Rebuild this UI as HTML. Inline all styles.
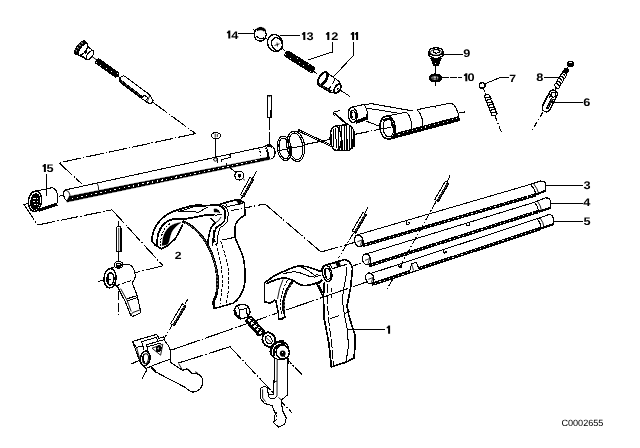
<!DOCTYPE html>
<html><head><meta charset="utf-8"><style>
html,body{margin:0;padding:0;background:#fff;}
svg{display:block;font-family:"Liberation Sans",sans-serif;}
text{text-rendering:geometricPrecision;}
</style></head><body>
<svg style="will-change:transform" width="640" height="448" viewBox="0 0 640 448" fill="none" stroke="#000" stroke-linecap="butt" stroke-linejoin="round" shape-rendering="crispEdges">
<rect x="0" y="0" width="640" height="448" fill="#fff" stroke="none"/>
<g transform="translate(80,47.5) rotate(36.8)">
<ellipse cx="0.6" cy="0" rx="3.6" ry="8.2" stroke-width="1.2" fill="#000"/>
<path d="M-2.0,-4.6 L-0.2,-5.0 M-2.6,-1.6 L-0.6,-1.8 M-2.6,1.6 L-0.6,1.6 M-2.0,4.6 L-0.2,4.8" stroke="#fff" stroke-width="0.9"/>
<ellipse cx="3.6" cy="0" rx="3.0" ry="7.2" stroke-width="1.2" fill="#fff"/>
<path d="M4.6,-5.6 L12.5,-5.2 M4.6,6.0 L12.5,5.4" stroke-width="1.1"/>
<path d="M3.6,-7.2 L4.8,-5.6 M3.6,7.2 L4.8,6.0" stroke-width="1.0"/>
<ellipse cx="12.5" cy="0.1" rx="2.4" ry="5.3" stroke-width="1.1" fill="#fff"/>
<path d="M4,6.2 L12,5.6" stroke-width="1.8"/>
<path d="M7.5,-1.6 L7.9,1.6" stroke-width="1.0"/>
<path d="M15,0 L21,0" stroke-width="0.9"/>
</g>
<path d="M95.1,61.3 L95.4,63.5 L115.2,77.7 L117.5,77.3 L119.3,74.7 L119.0,72.5 L99.2,58.3 L96.9,58.7 Z" fill="#000" stroke="none"/>
<rect x="96" y="62" width="1" height="1" fill="#fff" stroke="none"/>
<rect x="100" y="65" width="1" height="1" fill="#fff" stroke="none"/>
<rect x="106" y="68" width="1" height="1" fill="#fff" stroke="none"/>
<rect x="111" y="71" width="1" height="1" fill="#fff" stroke="none"/>
<rect x="117" y="73" width="1" height="1" fill="#fff" stroke="none"/>
<path d="M118.2,76.3 L121.5,78.8" stroke-width="1.0" />
<g transform="translate(80,47.5) rotate(36.8)">
<path d="M54,-3.9 L84,-3.9 L90.5,-1.2 L90.5,2.6 L86.5,3.9 L54,3.9 Q50.5,3.9 50.5,0 Q50.5,-3.9 54,-3.9 Z" stroke-width="1.0" fill="#fff"/>
<path d="M51.5,2.6 L79.5,3.0" stroke-width="3.0"/>
<path d="M54,2.2 L79,2.6" stroke="#fff" stroke-width="0.9" stroke-dasharray="1 4"/>
<path d="M80,3.9 L80,-0.5 L84.5,-0.5 L84.5,3.9" stroke-width="1.0"/>
<path d="M84.5,-3.9 L86.5,3.9" stroke-width="0.8"/>
</g>
<path d="M152.5,102.0 L195.6,133.6" stroke-width="1.1" stroke-dasharray="18 2 1.5 2" />
<path d="M195.6,133.6 L59.0,162.8" stroke-width="1.1" stroke-dasharray="18 2 1.5 2" />
<path d="M59.0,162.8 L82.5,184.5" stroke-width="1.1" stroke-dasharray="18 2 1.5 2" />
<path d="M228.5,30.6 L230.3,30.6 L230.3,38.6 L228.3,38.6 L228.3,33.3 L226.9,33.3 L226.9,32.0 Q228.2,31.8 228.5,30.6 Z" fill="#000" stroke="none" shape-rendering="auto"/>
<text transform="translate(231.2,38.7) scale(1.16,1)" font-size="11" font-weight="bold" text-anchor="start" stroke="none" fill="#000">4</text>
<path d="M238.0,33.2 L254.5,33.2" stroke-width="1.0" />
<ellipse cx="260.2" cy="34.6" rx="6.0" ry="6.6" stroke-width="1.3" fill="none"/>
<path d="M256.6,28.8 Q261,25.6 265.4,29.2 L264.2,31.2 Q261,28.6 257.4,30.6 Z" stroke-width="0.6" fill="#000" />
<path d="M253.5,29.5 L256.5,32.5" stroke-width="1.0" fill="none" />
<path d="M256.5,36 Q260,40.5 264.5,37.5" stroke-width="1.0" fill="none" />
<path d="M266.0,38.5 L268.5,40.2" stroke-width="1.0" />
<ellipse cx="275" cy="43" rx="7.4" ry="8.6" stroke-width="1.4" fill="#fff" transform="rotate(-22 275 43)"/>
<ellipse cx="277" cy="44.2" rx="5.2" ry="6.6" stroke-width="1.3" fill="none" transform="rotate(-22 277 44.2)"/>
<path d="M274.5,45.5 L279.5,43.8 M277,42.5 L277.5,46.5" stroke-width="0.8" fill="none" />
<path d="M303.5,32.0 L305.3,32.0 L305.3,40.0 L303.3,40.0 L303.3,34.7 L301.9,34.7 L301.9,33.4 Q303.2,33.2 303.5,32.0 Z" fill="#000" stroke="none" shape-rendering="auto"/>
<text transform="translate(306.6,40) scale(1.16,1)" font-size="11" font-weight="bold" text-anchor="start" stroke="none" fill="#000">3</text>
<path d="M278.5,36.1 L300.5,35.0" stroke-width="1.0" />
<path d="M282.5,48.5 L285.5,51.5" stroke-width="1.0" />
<path d="M284.1,54.5 L284.7,56.7 L310.9,73.0 L313.1,72.5 L315.3,69.1 L314.7,66.9 L288.5,50.6 L286.3,51.1 Z" fill="#000" stroke="none"/>
<rect x="285" y="54" width="1" height="1" fill="#fff" stroke="none"/>
<rect x="290" y="58" width="1" height="1" fill="#fff" stroke="none"/>
<rect x="297" y="58" width="1" height="1" fill="#fff" stroke="none"/>
<rect x="299" y="62" width="1" height="1" fill="#fff" stroke="none"/>
<rect x="303" y="65" width="1" height="1" fill="#fff" stroke="none"/>
<rect x="308" y="64" width="1" height="1" fill="#fff" stroke="none"/>
<rect x="310" y="71" width="1" height="1" fill="#fff" stroke="none"/>
<path d="M327.5,32.0 L329.3,32.0 L329.3,40.0 L327.3,40.0 L327.3,34.7 L325.9,34.7 L325.9,33.4 Q327.2,33.2 327.5,32.0 Z" fill="#000" stroke="none" shape-rendering="auto"/>
<text transform="translate(331.2,39.9) scale(1.16,1)" font-size="11" font-weight="bold" text-anchor="start" stroke="none" fill="#000">2</text>
<path d="M332.5,42.0 L332.5,52.0 L308.5,59.8" stroke-width="1.0" />
<path d="M352.3,32.0 L354.1,32.0 L354.1,40.0 L352.1,40.0 L352.1,34.7 L350.7,34.7 L350.7,33.4 Q352.0,33.2 352.3,32.0 Z" fill="#000" stroke="none" shape-rendering="auto"/>
<path d="M356.3,32.0 L358.1,32.0 L358.1,40.0 L356.1,40.0 L356.1,34.7 L354.7,34.7 L354.7,33.4 Q356.0,33.2 356.3,32.0 Z" fill="#000" stroke="none" shape-rendering="auto"/>
<path d="M353.6,42.0 L353.6,55.2 L333.5,76.8" stroke-width="1.0" />
<path d="M313.0,71.0 L317.0,73.5" stroke-width="1.0" />
<g transform="translate(322.5,78.6) rotate(33)">
<path d="M0,-7.3 L14,-6.8 Q18.5,-6.4 19.8,-3.6 L19.8,3.8 Q18.5,6.4 14,6.8 L0,7.3 Z" fill="#fff" stroke-width="1.0"/>
<ellipse cx="0" cy="0" rx="3.4" ry="7.4" stroke-width="2.0" fill="#fff"/>
<path d="M2.6,-7.2 Q6.4,0 2.6,7.2" stroke-width="1.2" fill="none"/>
<path d="M-0.5,7.0 L14.5,6.4" stroke-width="2.8"/>
<path d="M1,6.6 L14,6.1" stroke="#fff" stroke-width="0.8" stroke-dasharray="1 3.4"/>
<path d="M10.2,-6.8 Q11.6,-3 11.2,-1 M11.2,1.4 Q11.4,4 10.4,5.4" stroke-width="1.0"/>
<ellipse cx="18.0" cy="0.2" rx="2.7" ry="4.7" stroke-width="1.7" fill="#fff"/>
<circle cx="18.2" cy="0.4" r="1.1" fill="#000" stroke="none"/>
<path d="M20.8,0 L32.5,0" stroke-width="1.0"/>
</g>
<path d="M429,51.7 L429,55.6 Q436,61.8 443,55.6 L443,51.7" stroke-width="1.3" fill="#fff" />
<ellipse cx="436" cy="51.7" rx="7.0" ry="4.0" stroke-width="1.4" fill="#fff"/>
<ellipse cx="436" cy="52.4" rx="5.6" ry="2.9" stroke-width="0.9" fill="none"/>
<ellipse cx="436.4" cy="51.4" rx="3.2" ry="1.7" stroke-width="1.0" fill="none"/>
<path d="M430.8,58 L441.2,58 L438.6,65.2 L433.4,65.2 Z" stroke-width="1.0" fill="#000" />
<path d="M435,63.2 L436.4,63.2" stroke-width="1.0" fill="none" stroke="#fff"/>
<path d="M435.5,65.0 L435.5,74.0" stroke-width="1.0" />
<ellipse cx="435.4" cy="78" rx="6.3" ry="3.9" stroke-width="1.4" fill="#000"/>
<ellipse cx="434.8" cy="78" rx="4.0" ry="2.0" stroke-width="0.8" fill="#fff"/>
<path d="M431,78.2 L439.5,78.2 M433,76.6 L433,79.6 M436.5,76.6 L436.5,79.6" stroke-width="0.8" fill="none" />
<path d="M435.5,81.5 L435.5,86.0" stroke-width="1.0" />
<path d="M443.4,54.3 L463.0,54.3" stroke-width="1.0" />
<text transform="translate(463.2,56.8) scale(1.16,1)" font-size="11" font-weight="bold" text-anchor="start" stroke="none" fill="#000">9</text>
<path d="M442.0,77.4 L462.0,77.4" stroke-width="1.0" stroke-dasharray="6.5 1.6" />
<path d="M465.5,73.2 L467.3,73.2 L467.3,81.2 L465.3,81.2 L465.3,75.9 L463.9,75.9 L463.9,74.6 Q465.2,74.4 465.5,73.2 Z" fill="#000" stroke="none" shape-rendering="auto"/>
<text transform="translate(467.6,81.3) scale(1.16,1)" font-size="11" font-weight="bold" text-anchor="start" stroke="none" fill="#000">0</text>
<ellipse cx="482.3" cy="85.5" rx="3.0" ry="2.9" stroke-width="1.3" fill="#fff"/>
<path d="M481,88.2 Q484.5,88.5 485.2,85" stroke-width="1.6" fill="none" />
<path d="M508.5,77.2 L500,77.6 L485.5,83.6" stroke-width="1.0" fill="none" />
<text transform="translate(509.2,81.6) scale(1.16,1)" font-size="10.6" font-weight="bold" text-anchor="start" stroke="none" fill="#000">7</text>
<path d="M483.7,89.0 L486.5,95.0" stroke-width="1.0" stroke-dasharray="3 1.5" />
<ellipse cx="487.1" cy="96.4" rx="1.66" ry="3.0" stroke-width="1.1" fill="#fff" transform="rotate(86.0 487.1 96.4)"/>
<ellipse cx="488.1" cy="98.9" rx="1.66" ry="3.0" stroke-width="1.1" fill="#fff" transform="rotate(86.0 488.1 98.9)"/>
<ellipse cx="489.1" cy="101.4" rx="1.66" ry="3.0" stroke-width="1.1" fill="#fff" transform="rotate(86.0 489.1 101.4)"/>
<ellipse cx="490.1" cy="103.9" rx="1.66" ry="3.0" stroke-width="1.1" fill="#fff" transform="rotate(86.0 490.1 103.9)"/>
<ellipse cx="491.1" cy="106.3" rx="1.66" ry="3.0" stroke-width="1.1" fill="#fff" transform="rotate(86.0 491.1 106.3)"/>
<ellipse cx="492.1" cy="108.8" rx="1.66" ry="3.0" stroke-width="1.1" fill="#fff" transform="rotate(86.0 492.1 108.8)"/>
<ellipse cx="493.1" cy="111.3" rx="1.66" ry="3.0" stroke-width="1.1" fill="#fff" transform="rotate(86.0 493.1 111.3)"/>
<ellipse cx="494.1" cy="113.8" rx="1.66" ry="3.0" stroke-width="1.1" fill="#fff" transform="rotate(86.0 494.1 113.8)"/>
<path d="M494.8,115.5 L501.5,132.5" stroke-width="1.1" stroke-dasharray="6 2 1.5 2" />
<ellipse cx="570.4" cy="64" rx="3.1" ry="2.7" stroke-width="1.2" fill="#000"/>
<path d="M568.6,63.0 L571.6,62.6" stroke-width="1.0" fill="none" stroke="#fff"/>
<path d="M568.5,66.5 L567.3,68.6" stroke-width="1.0" />
<ellipse cx="564.5" cy="73.7" rx="1.78" ry="2.8" stroke-width="1.1" fill="#fff" transform="rotate(139.5 564.5 73.7)"/>
<ellipse cx="563.0" cy="76.2" rx="1.78" ry="2.8" stroke-width="1.1" fill="#fff" transform="rotate(139.5 563.0 76.2)"/>
<ellipse cx="561.5" cy="78.6" rx="1.78" ry="2.8" stroke-width="1.1" fill="#fff" transform="rotate(139.5 561.5 78.6)"/>
<ellipse cx="560.0" cy="81.1" rx="1.78" ry="2.8" stroke-width="1.1" fill="#fff" transform="rotate(139.5 560.0 81.1)"/>
<ellipse cx="558.5" cy="83.5" rx="1.78" ry="2.8" stroke-width="1.1" fill="#fff" transform="rotate(139.5 558.5 83.5)"/>
<ellipse cx="557.0" cy="86.0" rx="1.78" ry="2.8" stroke-width="1.1" fill="#fff" transform="rotate(139.5 557.0 86.0)"/>
<path d="M567.2,68.6 L564.6,73.4" stroke-width="5.2" />
<text transform="translate(536.3,81.4) scale(1.16,1)" font-size="11" font-weight="bold" text-anchor="start" stroke="none" fill="#000">8</text>
<path d="M543.5,77.5 L558.5,77.5" stroke-width="1.0" />
<path d="M556.0,87.4 L555.0,89.6" stroke-width="1.0" />
<g transform="translate(554.6,91.4) rotate(117)">
<path d="M2.4,-4.0 L18.5,-4.0 Q22.4,-3.6 22.4,0 Q22.4,3.6 18.5,4.0 L2.4,4.0 Q-1.0,3.6 -1.0,0 Q-1.0,-3.6 2.4,-4.0 Z" fill="#fff" stroke-width="1.2"/>
<ellipse cx="3.4" cy="-0.6" rx="2.6" ry="2.2" stroke-width="1.0"/>
<path d="M2.2,1.8 L8,1.8" stroke-width="1.0"/>
<path d="M7.4,-1.4 L19,-1.2" stroke-width="2.8"/>
<path d="M8.4,-1.4 L19,-1.2" stroke="#fff" stroke-width="0.9" stroke-dasharray="1 2.6"/>
<path d="M4,4.0 L18,4.0" stroke-width="1.8"/>
</g>
<path d="M551.8,102.0 L583.0,102.0" stroke-width="1.0" />
<text transform="translate(583.2,105.8) scale(1.16,1)" font-size="11" font-weight="bold" text-anchor="start" stroke="none" fill="#000">6</text>
<path d="M543.0,112.0 L532.0,130.5" stroke-width="1.1" stroke-dasharray="6 2 1.5 2" />
<path d="M267.5,117.3 L267.5,96.4 Q267.5,95.2 269.4,95.2 Q271.3,95.2 271.3,96.4 L271.3,117.3 Z" stroke-width="1.4" fill="#fff" />
<path d="M270.6,110.0 L270.6,117.0" stroke-width="1.6" />
<path d="M268.4,96.6 L270.4,96.6" stroke-width="0.8" fill="none" />
<path d="M269.2,118.0 L269.2,145.0" stroke-width="1.0" stroke-dasharray="12 2" />
<ellipse cx="215.9" cy="135.6" rx="4.6" ry="3.0" stroke-width="1.2" fill="#fff"/>
<path d="M215.2,133.5 L215.2,137.6 M217.3,134 L217.3,137" stroke-width="0.8" fill="none" />
<path d="M215.3,138.8 L215.3,158.5" stroke-width="1.0" />
<path d="M227.0,165.3 L235.8,172.3" stroke-width="1.0" />
<ellipse cx="239.2" cy="175.6" rx="4.4" ry="4.4" stroke-width="1.2" fill="#fff"/>
<ellipse cx="239.4" cy="175.8" rx="1.3" ry="1.3" stroke-width="1.0" fill="#000"/>
<path d="M242.8,178.6 L245.0,180.4" stroke-width="0.8" />
<path d="M44.1,164.0 L45.9,164.0 L45.9,172.0 L43.9,172.0 L43.9,166.7 L42.5,166.7 L42.5,165.4 Q43.8,165.2 44.1,164.0 Z" fill="#000" stroke="none" shape-rendering="auto"/>
<text transform="translate(46.6,172.3) scale(1.16,1)" font-size="11" font-weight="bold" text-anchor="start" stroke="none" fill="#000">5</text>
<path d="M35,191.2 L52.5,187.6 Q57.8,190 57.8,197.5 Q57.8,202.5 56.5,204.8 L35.5,211.3 Z" stroke-width="1.0" fill="#fff" />
<path d="M39,210.2 L57,204.0" stroke-width="3.2" fill="none" />
<ellipse cx="35" cy="201.2" rx="6.6" ry="10.2" stroke-width="1.5" fill="#fff" transform="rotate(8 35 201.2)"/>
<ellipse cx="35.3" cy="201.6" rx="4.2" ry="7.6" stroke-width="1.8" fill="#000" transform="rotate(8 35.3 201.6)"/>
<path d="M33.4,199 L35.6,198.6 M36.6,198.4 L38,198.2 M33.4,202 L35.4,201.8 M36.6,201.4 L38.2,201.2 M33.8,205 L35.8,204.8 M37,204.4 L38.2,204.2" stroke-width="1.0" fill="none" stroke="#fff"/>
<path d="M46.6,174.2 L46.6,195.5" stroke-width="1.0" />
<path d="M23.3,204.8 L29.0,203.2" stroke-width="1.0" />
<path d="M58.5,196.3 L63.5,195.2" stroke-width="1.0" />
<path d="M24.0,204.5 L37.5,225.0" stroke-width="1.1" stroke-dasharray="18 2 1.5 2" />
<path d="M37.5,225.0 L112.0,209.8" stroke-width="1.1" stroke-dasharray="18 2 1.5 2" />
<path d="M112.0,209.8 L163.0,265.8" stroke-width="1.1" stroke-dasharray="18 2 1.5 2" />
<path d="M163.0,265.8 L135.0,272.8" stroke-width="1.1" stroke-dasharray="18 2 1.5 2" />
<path d="M65,190 L265,146.5 L271,159 L66.5,200.6 Z" stroke-width="0" fill="#fff" stroke="none"/>
<path d="M65.0,190.0 L265.5,146.4" stroke-width="1.0" />
<path d="M69,196.4 L270,156.8 L270.6,159.2 L66.8,202.0 Z" stroke-width="0.6" fill="#000" />
<path d="M72.0,198.6 L262.0,159.5" stroke-width="1.2" stroke-dasharray="1.4 3.4" stroke="#fff"/>
<path d="M65.5,189.8 Q62.8,191.5 63.8,195.5 Q64.6,199.8 67,200.6" stroke-width="1.1" fill="none" />
<path d="M65.5,190 Q69.5,191 70,195 Q70,199 67,200.4" stroke-width="0.9" fill="none" />
<path d="M97,183 Q99,186.5 98.6,190" stroke-width="0.9" fill="none" />
<path d="M215.5,157.2 L229.5,154.2 L230.8,157.4 L221,159.6 L221.5,161.8" stroke-width="1.0" fill="none" />
<path d="M213.5,160 L217.5,159 L217.8,162.6" stroke-width="1.0" fill="none" />
<ellipse cx="215.4" cy="159.6" rx="1.6" ry="1.6" stroke-width="0.9" fill="#fff"/>
<path d="M226,163.5 L227,166" stroke-width="1.2" fill="none" />
<path d="M258.5,148 Q261.5,153 260.5,160.5" stroke-width="1.0" fill="none" stroke-dasharray="2 1.5"/>
<path d="M264.8,146.6 Q268.5,152 266.6,159.6" stroke-width="1.0" fill="none" />
<path d="M264.8,146.6 Q268,143.5 271.5,145.6 Q276.5,149.5 274.6,155.8 Q273.5,158.5 270.8,159.2" stroke-width="1.2" fill="#fff" />
<path d="M266,147 Q269.5,152.5 267.5,159.3" stroke-width="1.0" fill="none" />
<path d="M267,146 Q270,145 272.5,147.2" stroke-width="2.2" fill="none" />
<ellipse cx="284.3" cy="148.4" rx="7.0" ry="12.3" stroke-width="1.1" fill="none" transform="rotate(-8 284.3 148.4)"/>
<ellipse cx="284.3" cy="148.4" rx="5.2" ry="10.5" stroke-width="1.1" fill="none" transform="rotate(-8 284.3 148.4)"/>
<ellipse cx="295.8" cy="146.3" rx="8.9" ry="15.3" stroke-width="1.1" fill="none" transform="rotate(-8 295.8 146.3)"/>
<ellipse cx="295.8" cy="146.3" rx="7.0" ry="13.4" stroke-width="1.1" fill="none" transform="rotate(-8 295.8 146.3)"/>
<path d="M290.2,145.5 L291.2,152.5" stroke-width="2.0" fill="none" />
<path d="M277.5,150.8 L304.8,145.6" stroke-width="1.0" />
<path d="M298.2,129.4 L336.0,147.2" stroke-width="1.0" />
<path d="M298.6,131.2 L333.0,147.4" stroke-width="1.0" />
<path d="M298.2,129.4 L298.6,131.2" stroke-width="1.0" />
<path d="M335.5,125.8 L348.5,124.6 Q355.2,128 354.8,138 Q354.4,147 349,150.2 L336.5,150.6 Z" stroke-width="1.3" fill="#fff" />
<path d="M339.2,126.0 L339.4,150.0" stroke-width="1.4" fill="none" />
<path d="M341.7,125.7 L341.9,150.0" stroke-width="1.4" fill="none" />
<path d="M344.2,125.4 L344.4,150.0" stroke-width="1.4" fill="none" />
<path d="M346.7,125.1 L346.9,150.0" stroke-width="1.4" fill="none" />
<path d="M349.2,125.1 L349.4,150.0" stroke-width="1.4" fill="none" />
<path d="M351.7,126.3 L351.9,148.6" stroke-width="1.4" fill="none" />
<path d="M353.6,129 L353.8,147" stroke-width="1.6" fill="none" />
<ellipse cx="335.8" cy="138.3" rx="5.6" ry="12.2" stroke-width="1.5" fill="#fff" transform="rotate(-3 335.8 138.3)"/>
<path d="M333.2,129.5 L333.6,147.5 M335.8,128.4 L336.2,148.4 M338.2,129 L338.6,148" stroke-width="1.0" fill="none" />
<path d="M331.2,134 L331.4,143" stroke-width="1.0" fill="none" />
<path d="M346.5,124.5 L333.0,112.3 L340.0,110.4" stroke-width="1.0" />
<path d="M348.5,125.0 L335.0,113.4" stroke-width="1.0" />
<path d="M333.0,112.3 L334.5,116.5" stroke-width="1.0" />
<path d="M304.8,144.6 L330.0,139.4" stroke-width="1.1" stroke-dasharray="30 2 1.5 2" />
<path d="M355.0,134.3 L381.0,129.0" stroke-width="1.1" stroke-dasharray="14 2 1.5 2" />
<path d="M364,105 L371,103.6 L421,112.6 L410,115.2 L383,128 L365.5,121 Z" stroke-width="0" fill="#fff" stroke="none"/>
<path d="M364,105 L371,103.6 L422,112.6" stroke-width="1.1" fill="none" />
<path d="M367.5,108.2 L410.5,115.2" stroke-width="1.0" fill="none" />
<path d="M366,121 L383,127.6" stroke-width="1.0" fill="none" />
<path d="M351.5,107.2 L363.8,104.5 Q367.8,108 367.6,118.2 L356.5,122.6 Z" stroke-width="1.0" fill="#fff" />
<path d="M355.5,122.4 L367.4,117.8" stroke-width="3.4" fill="none" />
<path d="M362,120.3 L367.4,118 L367.4,114" stroke-width="2.0" fill="none" />
<ellipse cx="352.7" cy="115" rx="4.4" ry="7.7" stroke-width="1.4" fill="#fff" transform="rotate(-6 352.7 115)"/>
<ellipse cx="353.2" cy="115.2" rx="2.5" ry="4.6" stroke-width="1.2" fill="none" transform="rotate(-6 353.2 115.2)"/>
<path d="M352,111.5 Q350.8,115 352.2,118.5" stroke-width="1.6" fill="none" />
<path d="M387,116 L406,112.2 L417,109.6 L451,103 Q458,107 459.4,119.8 L387.5,139 Z" stroke-width="0" fill="#fff" stroke="none"/>
<path d="M387,116 L406.5,112.2" stroke-width="1.0" fill="none" />
<path d="M417,109.7 L433.5,106.4 L435.2,107.2 L436,105.9 L451.2,103" stroke-width="1.0" fill="none" />
<path d="M451.2,103 Q457.5,106 459.3,119.8" stroke-width="1.0" fill="none" />
<path d="M406.5,112.2 Q412.5,118 411.2,129" stroke-width="1.0" fill="none" />
<path d="M417,109.7 Q423.5,116 422.8,126.5" stroke-width="1.0" fill="none" />
<path d="M388.5,137.6 L459.2,118.6" stroke-width="5.0" />
<path d="M394.0,135.5 L457.0,118.5" stroke-width="1.0" stroke-dasharray="1 3.6" stroke="#fff"/>
<ellipse cx="387.6" cy="127.6" rx="7.7" ry="11.6" stroke-width="1.5" fill="#fff" transform="rotate(-6 387.6 127.6)"/>
<ellipse cx="388.4" cy="128" rx="5.4" ry="9.0" stroke-width="1.0" fill="none" transform="rotate(-6 388.4 128)"/>
<path d="M383.5,121 Q387,117.8 391.5,119.6" stroke-width="2.6" fill="none" />
<path d="M391.5,120 L392.5,128" stroke-width="1.6" fill="none" />
<path d="M381.5,129.0 L391.0,127.2" stroke-width="1.0" />
<path d="M459.6,113.0 L465.5,111.8" stroke-width="1.0" />
<path d="M357.5,234.8 L530.6,184.3 L536,194.8 L362.5,245.6 Z" stroke-width="0" fill="#fff" stroke="none"/>
<path d="M357.5,234.8 L530.6,184.3" stroke-width="1.0" />
<path d="M362.5,245.6 L536.0,194.8" stroke-width="3.4" />
<path d="M365.5,245.0 L534.0,195.1" stroke-width="1.0" stroke-dasharray="1.2 3.6" stroke="#fff"/>
<ellipse cx="358.8" cy="240.8" rx="4.2" ry="5.9" stroke-width="1.3" fill="#fff" transform="rotate(-17 358.8 240.8)"/>
<path d="M357.3,241.8 L362.5,239.8 M362.2,239.8 L360.3,245.70000000000002" stroke-width="0.8" fill="none" />
<path d="M530.6,184.3 L540.5,181 Q545.8,181.2 545.8,185 L545.8,190.4 L536.5,194.8 Q534.8,189 530.6,184.3 Z" stroke-width="1.2" fill="#fff" />
<path d="M533.5,183.6 Q537.5,188.5 538.8,193.8" stroke-width="0.9" fill="none" />
<path d="M536.5,194.6 L545.6,190.4" stroke-width="2.2" fill="none" />
<path d="M364.2,254.6 L534.4,202.3 L538,211.6 L368.8,265.6 Z" stroke-width="0" fill="#fff" stroke="none"/>
<path d="M364.2,254.6 L534.4,202.3" stroke-width="1.0" />
<path d="M368.8,265.6 L538.0,211.6" stroke-width="3.4" />
<path d="M371.8,264.9 L536.0,211.9" stroke-width="1.0" stroke-dasharray="1.2 3.6" stroke="#fff"/>
<ellipse cx="366.5" cy="259.4" rx="4.0" ry="5.4" stroke-width="1.3" fill="#fff" transform="rotate(-17 366.5 259.4)"/>
<path d="M365.0,260.4 L370.0,258.4 M369.7,258.4 L368.0,263.79999999999995" stroke-width="0.8" fill="none" />
<path d="M534.4,202.3 L545.6,197.8 Q550.4,198 550.4,202 L550.4,208 L538.5,211.8 Q538,206 534.4,202.3 Z" stroke-width="1.2" fill="#fff" />
<path d="M537.5,201.2 Q541,206 541.5,210.8" stroke-width="0.9" fill="none" />
<path d="M539,211.6 L550.2,208" stroke-width="2.2" fill="none" />
<path d="M367.5,274.6 L537,218.8 L540.5,228.6 L372,284.2 Z" stroke-width="0" fill="#fff" stroke="none"/>
<path d="M367.5,274.6 L537.0,218.8" stroke-width="1.0" />
<path d="M372.0,284.2 L540.5,228.6" stroke-width="3.4" />
<path d="M375.0,283.5 L538.5,228.9" stroke-width="1.0" stroke-dasharray="1.2 3.6" stroke="#fff"/>
<ellipse cx="369.8" cy="278.4" rx="4.0" ry="5.4" stroke-width="1.3" fill="#fff" transform="rotate(-17 369.8 278.4)"/>
<path d="M368.3,279.4 L373.3,277.4 M373.0,277.4 L371.3,282.79999999999995" stroke-width="0.8" fill="none" />
<path d="M537,218.8 L549,214.6 Q553.2,214.8 553.2,218.6 L553.2,224.2 L541,228.6 Q540.8,223 537,218.8 Z" stroke-width="1.2" fill="#fff" />
<path d="M540,217.8 Q543.6,222.6 544,227.6" stroke-width="0.9" fill="none" />
<path d="M541.5,228.4 L553,224.2" stroke-width="2.2" fill="none" />
<path d="M546.2,185.0 L583.0,185.0" stroke-width="1.0" />
<text transform="translate(583.6,188.6) scale(1.16,1)" font-size="11" font-weight="bold" text-anchor="start" stroke="none" fill="#000">3</text>
<path d="M550.8,203.0 L583.0,203.0" stroke-width="1.0" />
<text transform="translate(583.2,206.4) scale(1.16,1)" font-size="11" font-weight="bold" text-anchor="start" stroke="none" fill="#000">4</text>
<path d="M553.6,221.0 L583.0,221.0" stroke-width="1.0" />
<text transform="translate(583.6,224.6) scale(1.16,1)" font-size="11" font-weight="bold" text-anchor="start" stroke="none" fill="#000">5</text>
<path d="M406.5,221.5 Q405.8,224.5 408.2,224.6 Q410,224 409,222.2" stroke-width="1.3" fill="none" />
<path d="M466.8,222.8 Q466,225.6 468.2,225.8 Q470,225.2 469,223.4" stroke-width="1.3" fill="none" />
<path d="M443.6,250 Q442.8,252.8 445,253 Q446.8,252.4 445.8,250.6" stroke-width="1.3" fill="none" />
<path d="M398.8,264.4 Q398,267.6 400.4,267.6 Q402,267 401,265" stroke-width="1.3" fill="none" />
<path d="M409.5,271.8 L411.5,263.8 L416,262.2 L419.5,269.6" stroke-width="1.0" fill="#fff" />
<path d="M411.5,263.8 L413.6,270.5" stroke-width="0.8" fill="none" />
<path d="M450.0,175.5 L447.3,181.5" stroke-width="1.0" />
<path d="M449.0,183.4 L438.4,201.5 L434.8,199.3 L445.4,181.2 Z" stroke-width="1.0" fill="#fff" />
<path d="M447.8,183.2 L437.7,200.4" stroke-width="2.0" />
<path d="M447.0,184.5 L437.9,200.0" stroke-width="0.9" stroke-dasharray="1 2.2" stroke="#fff"/>
<path d="M436.0,201.5 L399.5,267.5" stroke-width="1.1" stroke-dasharray="8 2 1.5 2" />
<path d="M392.5,279.5 L385.5,291.5" stroke-width="1.1" stroke-dasharray="8 2 1.5 2" />
<path d="M368.0,207.0 L365.0,213.0" stroke-width="1.0" />
<path d="M366.5,214.7 L355.8,233.1 L352.2,230.9 L362.9,212.5 Z" stroke-width="1.0" fill="#fff" />
<path d="M365.3,214.5 L355.1,232.0" stroke-width="2.0" />
<path d="M364.5,215.8 L355.3,231.6" stroke-width="0.9" stroke-dasharray="1 2.2" stroke="#fff"/>
<path d="M353.6,232.8 L338.5,258.0" stroke-width="1.1" stroke-dasharray="8 2 1.5 2" />
<path d="M231.0,210.6 L265.0,204.0" stroke-width="1.1" stroke-dasharray="8 2 1.5 2" />
<path d="M265.0,204.0 L321.0,252.0" stroke-width="1.1" stroke-dasharray="22 2 1.5 2" />
<path d="M321.0,252.0 L356.0,242.0" stroke-width="1.1" stroke-dasharray="18 2 1.5 2" />
<path d="M256.5,171.0 L252.5,178.6" stroke-width="1.0" />
<path d="M253.6,179.6 L244.0,196.8 L240.4,194.8 L250.0,177.6 Z" stroke-width="1.0" fill="#fff" />
<path d="M252.4,179.5 L243.3,195.8" stroke-width="2.0" />
<path d="M251.7,180.8 L243.5,195.4" stroke-width="0.9" stroke-dasharray="1 2.2" stroke="#fff"/>
<path d="M243.0,196.0 L240.5,200.0" stroke-width="1.0" />
<path d="M151.8,240.6 C152.5,228 160,216.5 174,211.2 C183,208 190,205.8 196,205.2 L207.5,205.6 L220,204.6 L225,202.5 L238,199.4 L244.4,202.5 L245,215 L237.5,221 L235,227.5 L235,237.5 L242.5,255 L244.7,268 L244.7,283.4 L240,296 L233.8,303 L214.2,308.6 L213.4,302 C217,292 219,278 215,260 C211,246 203,233 192,226 L182.7,221.5 L175.6,238.4 L166.8,246.3 L161.3,248.8 L155,245 Z" stroke-width="0" fill="#fff" stroke="none"/>
<path d="M151.8,240.6 C152.5,228 160,216.5 174,211.2 C183,208 190,205.8 196,205.2 L207.5,205.6 L220,204.6" stroke-width="1.8" fill="none" />
<path d="M151.8,240.6 L155,245 L161.3,248.8 L166.8,246.3 L175.6,238.4 L182.7,224.4" stroke-width="1.7" fill="none" />
<path d="M157.3,245.8 C156.2,232 162,223.2 170,220 C175,218.4 180,218.6 183,219.3 L195,217.3 L207.5,214.6 L214.5,215.4" stroke-width="1.8" fill="none" />
<path d="M160.6,246.5 C160.2,234 164.5,226.5 171.5,222.8" stroke-width="1.0" fill="none" stroke-dasharray="2 1.4"/>
<path d="M162.2,245.4 L163.4,236.9 Q165,232.5 167.1,229.5 Q170,226 173.3,224.6 Q177,223.2 180.6,222.7 Q177.6,224.6 175.7,226.4 Q173,229.4 171.4,232 Q169.6,236.5 169,240.5 L167.7,244.2 Z" stroke-width="0.8" fill="#000" />
<path d="M178.8,211.5 L195,206.5 L207.5,207.1 L198.8,212.1 Z" stroke-width="1.0" fill="none" />
<path d="M182.5,221.3 C196,226 206,240 211.5,253 C216.5,266 219,280 216.8,292 C216,297 214,300 213.4,302 L214.2,308.6" stroke-width="2.6" fill="none" />
<path d="M185,223 C197,228 206.5,241 211.5,253.5 C216.2,266 218.6,280 216.6,291" stroke-width="0.9" fill="none" stroke="#fff" stroke-dasharray="1.2 2.4"/>
<path d="M220,204.6 L225,202.5 L238,199.4 L244.4,202.5" stroke-width="1.7" fill="none" />
<path d="M225,202.5 L227.5,206.5 M238,199.4 L240.5,203.8 L244.4,202.5 M227.5,206.5 L240.5,203.8" stroke-width="1.0" fill="none" />
<path d="M236.5,200.5 L239,204.5 L241.5,203.6 L239.2,199.8 Z" stroke-width="0.8" fill="#000" />
<path d="M244.4,202.5 L245,215 Q238,219.5 237.5,221 Q235,224 235,227.5 L235,237.5 L242.5,255 Q244.7,262 244.7,268 L244.7,283.4 Q243.5,291 240,296 Q237,300.5 233.8,303 L214.2,308.6" stroke-width="1.6" fill="none" />
<path d="M218.8,205.4 Q225.5,207.5 225.2,214 L224.4,221.3 Q221,225 216.3,227.5 Q212.8,236 212.5,246" stroke-width="1.6" fill="none" />
<path d="M221.9,204.8 Q228.5,207.5 228.2,214 L227.5,221.5 Q224,225.5 220,228 Q217,236 216.9,246" stroke-width="1.0" fill="none" />
<path d="M214,209 Q218.5,208.4 219.6,212.6 Q216.5,211.3 214.4,212 Z" stroke-width="0.6" fill="#000" />
<path d="M210.6,217.8 L215,223 Q210.5,227 210,231 Q208,238 207.5,246" stroke-width="1.6" fill="none" />
<path d="M214.5,215.4 L222,214.2" stroke-width="1.0" fill="none" />
<path d="M215,223 Q219,221.5 221,217" stroke-width="0.9" fill="none" />
<path d="M213.8,230 Q214,238 215.5,243.5 Q219.5,255 221.5,268 Q223.5,285 220,304" stroke-width="1.0" fill="none" stroke-dasharray="3 1.6"/>
<path d="M220.6,241 Q226,256 228.5,270 Q230,288 226,303.5" stroke-width="1.0" fill="none" stroke-dasharray="3 1.6"/>
<path d="M222.5,240 L233.8,237.5" stroke-width="1.0" fill="none" />
<text transform="translate(174.8,259.2) scale(1.16,1)" font-size="10.5" font-weight="bold" text-anchor="start" stroke="none" fill="#000">2</text>
<path d="M231.0,210.6 L248.0,207.4" stroke-width="1.1" stroke-dasharray="8 2 1.5 2" />
<path d="M264.4,282.8 L273.8,276.2 L298,266 L313,268.6 L320.6,271.4 L323,267 L330,264 L345,259.4 Q351,261 352.5,268.8 L350.6,287.5 L347,306 L348.8,315.6 L354.7,334.4 L354.7,350 L354,358 L347,361.8 L331.3,367 L329,343.8 L324.2,318.8 L323.4,297 L324.4,282.5 L315,284 L303.8,285.6 L292.5,282 L287,289.4 L282,302.5 L285,317.5 L278.4,319.6 L278.4,313.8 L275.6,299.7 L270,303.4 L264.4,301.6 Z" stroke-width="0" fill="#fff" stroke="none"/>
<path d="M264.4,282.8 L264.4,301.6 L270,303.4 L275.6,299.7" stroke-width="1.7" fill="none" />
<path d="M264.4,282.8 L273.8,276.2 C284,271 292,267.5 298,266 C304,265.5 309,267 313,268.6 L320.8,271.6" stroke-width="1.7" fill="none" />
<path d="M266,283.8 C272,281 278,278.4 283,278 C288,277.8 290,279 292.5,280.2 C297,283 300,285.5 304,285.6 C309,285.6 312,284.6 315,283.6 Q319,282 322.5,279.8" stroke-width="1.7" fill="none" />
<path d="M283,274 C290,271.5 295,271 300,272.8 C306,275 310,277.5 315,277 L321,275" stroke-width="1.0" fill="none" />
<path d="M300.6,266.7 Q305,268.4 308.4,270.6 Q312,273.6 314.7,275.3 L317.8,274.5" stroke-width="1.0" fill="none" />
<path d="M275.6,299.7 L278.4,313.8 L278.4,319.6 L285,317.5 L284.2,313" stroke-width="1.6" fill="none" />
<path d="M278.4,319.6 Q281,321.2 285,317.5" stroke-width="1.0" fill="none" />
<path d="M292.5,281.5 Q286.5,289 284.2,298 Q282.6,305 284.2,313.5" stroke-width="2.6" fill="none" />
<path d="M291,284.5 Q286.6,291 285,298.5 Q283.8,305 284.6,312" stroke-width="0.9" fill="none" stroke="#fff" stroke-dasharray="1.2 2.4"/>
<path d="M283,279.5 Q279,288 277.5,299" stroke-width="0.9" fill="none" />
<path d="M287.5,280.5 Q282.5,289 281,299.5 Q280.4,306 281.4,314" stroke-width="1.0" fill="none" stroke-dasharray="2.5 1.5"/>
<path d="M320.8,271.6 Q322,266 326.5,264.6 L330,264 L345,259.4 Q351,261 352.5,268.8 L350.6,287.5 L347,306 L348.8,315.6 L354.7,334.4 L354.7,350 L354,358 L347,361.8 L331.3,367" stroke-width="1.7" fill="none" />
<ellipse cx="327.2" cy="273.4" rx="4.6" ry="8.2" stroke-width="1.4" fill="#fff" transform="rotate(-12 327.2 273.4)"/>
<ellipse cx="327.6" cy="273.8" rx="2.8" ry="5.6" stroke-width="1.1" fill="none" transform="rotate(-12 327.6 273.8)"/>
<path d="M325.6,269.5 Q324.6,273.5 326.2,277.8" stroke-width="1.6" fill="none" />
<path d="M330,264 L332.5,268.6 L346.6,264.4" stroke-width="1.0" fill="none" />
<path d="M335.5,262.4 L337.5,266.8 L340.5,266 L338.8,261.4 Z" stroke-width="0.8" fill="#000" />
<path d="M322.5,280 Q320,283 317,284.5 L323,296.5 L324.4,283" stroke-width="1.6" fill="none" />
<path d="M318.5,285 L322.5,293" stroke-width="2.0" fill="none" />
<path d="M324.4,282.5 L323.4,297 L324.2,318.8 L329,343.8 L331.3,367" stroke-width="1.7" fill="none" />
<path d="M327.4,284 L327.2,300 L329,323.4 L332,347 L333.6,365.6" stroke-width="1.0" fill="none" stroke-dasharray="9 2"/>
<path d="M347,267 Q346.5,275 343.5,290 L342.2,300 L344.5,315.6 L347.6,331.2 L348.4,347 L346,361.8" stroke-width="1.0" fill="none" />
<path d="M331,288 L331,298" stroke-width="1.0" fill="none" stroke-dasharray="4 2"/>
<path d="M329.7,318.8 L339,315.6 M345.3,313.3 L350,311.7" stroke-width="1.0" fill="none" />
<path d="M171.5,350.0 L277.0,313.2" stroke-width="1.1" stroke-dasharray="30 2 1.5 2" />
<path d="M286.0,310.1 L368.0,281.5" stroke-width="1.1" stroke-dasharray="30 2 1.5 2" />
<path d="M353.0,265.8 L362.0,263.2" stroke-width="1.1" stroke-dasharray="5 1.5 1.5 1.5" />
<path d="M347.6,329.7 L384.5,329.7" stroke-width="1.1" />
<path d="M388.3,325.4 L390.1,325.4 L390.1,333.8 L388.1,333.8 L388.1,328.2 L386.7,328.2 L386.7,326.9 Q388.0,326.7 388.3,325.4 Z" fill="#000" stroke="none" shape-rendering="auto"/>
<path d="M118.6,220.5 L118.6,226.5" stroke-width="1.0" />
<path d="M116.5,251.6 L116.5,228 Q116.5,226.6 118.7,226.6 Q120.9,226.6 120.9,228 L120.9,251.6 Z" stroke-width="1.3" fill="#fff" />
<path d="M118.7,228.0 L118.7,251.0" stroke-width="0.8" />
<path d="M118.6,252.0 L118.6,262.0" stroke-width="1.0" />
<path d="M110,268.6 L114.5,266.8 L123,265 L128.8,264.2 Q134.4,266.5 135.2,275 Q135.2,280 132,282.8 L137,295 L140.6,311.2 L140,313.2 L132.5,316.4 L130.6,315 L125,301.2 L118.2,287.8 L116.2,285.8 Z" stroke-width="1.1" fill="#fff" />
<ellipse cx="110" cy="278.3" rx="6.0" ry="9.7" stroke-width="1.5" fill="#fff" transform="rotate(4 110 278.3)"/>
<ellipse cx="110.4" cy="279" rx="3.6" ry="6.2" stroke-width="1.3" fill="none" transform="rotate(4 110.4 279)"/>
<path d="M108.2,274 Q106.8,279 108.6,284" stroke-width="1.8" fill="none" />
<ellipse cx="118.6" cy="264.8" rx="4.4" ry="3.4" stroke-width="1.2" fill="#fff"/>
<ellipse cx="118.6" cy="265.2" rx="2.4" ry="1.7" stroke-width="1.3" fill="#fff"/>
<path d="M117,265.6 L120,265.6" stroke-width="1.0" fill="none" />
<path d="M116.2,285.8 L131,280.6" stroke-width="1.0" fill="none" stroke-dasharray="4 2"/>
<path d="M120.6,288.6 L127,300.2 L131.2,311.4" stroke-width="0.9" fill="none" />
<path d="M127,298.8 L137,295.6 M127.2,300.8 L137.4,297.6" stroke-width="1.0" fill="none" />
<path d="M131,315 L132.6,312.6 L140.2,309.8" stroke-width="0.9" fill="none" />
<path d="M98.0,281.3 L111.0,279.4" stroke-width="1.0" stroke-dasharray="6 2" />
<path d="M118.5,291.0 L118.5,314.5" stroke-width="1.0" stroke-dasharray="9 2.5" />
<path d="M135.5,272.6 L135.2,272.8" stroke-width="1.0" />
<path d="M188.0,299.0 L184.6,304.4" stroke-width="1.0" />
<path d="M186.0,306.1 L174.2,325.9 L170.6,323.7 L182.4,303.9 Z" stroke-width="1.0" fill="#fff" />
<path d="M184.8,305.9 L173.5,324.9" stroke-width="2.0" />
<path d="M184.0,307.2 L173.7,324.4" stroke-width="0.9" stroke-dasharray="1 2.2" stroke="#fff"/>
<path d="M172.0,325.6 L164.5,338.0" stroke-width="1.1" stroke-dasharray="5 2 1.5 2" />
<path d="M132.5,341.4 L156.7,334.4 L159,338.3 L163.8,336.7 L165.3,342 Q170.8,347 170.8,354 L170.8,362.5 L182.5,370.3 L187,368.8 L192,373.4 L198,374 Q202.8,376.5 202.8,381 Q202.8,386 199.5,389.5 Q196,392.5 192,392 Q188.5,391 185.6,387.5 L167,378 L156,372 L151,366.4 L146,368.5 L140.3,362.5 Z" stroke-width="1.1" fill="#fff" />
<path d="M132.5,341.4 L136.5,347.5 L142.8,345.8 L144.2,350.4" stroke-width="1.0" fill="none" />
<path d="M136.5,347.5 L140.6,362" stroke-width="0.9" fill="none" />
<path d="M142.8,345.8 L141.6,341.6 L156.2,337.4 L157.6,340.6" stroke-width="1.0" fill="none" />
<path d="M146.5,344.8 L160.6,340.6 L163.6,339.8 M147,347 L161.5,342.8" stroke-width="1.0" fill="none" />
<path d="M146.5,344.8 L148.5,353.5" stroke-width="1.0" fill="none" />
<ellipse cx="145.2" cy="358.4" rx="4.8" ry="7.4" stroke-width="1.6" fill="#fff" transform="rotate(8 145.2 358.4)"/>
<ellipse cx="145.6" cy="358.8" rx="2.8" ry="5.0" stroke-width="1.0" fill="none" transform="rotate(8 145.6 358.8)"/>
<path d="M143.6,354 Q142.4,358.5 144,363" stroke-width="1.8" fill="none" />
<path d="M152,348.2 L162.8,344.2 L160.6,355.2 Z" stroke-width="0.9" fill="none" />
<ellipse cx="158.6" cy="348.8" rx="2.4" ry="3.0" stroke-width="1.0" fill="#000" transform="rotate(20 158.6 348.8)"/>
<ellipse cx="158.2" cy="348.4" rx="1.0" ry="1.4" stroke-width="0.8" fill="#fff" transform="rotate(20 158.2 348.4)"/>
<path d="M150.8,366.4 Q155,364.5 170.2,359.2" stroke-width="1.0" fill="none" />
<path d="M151,366.4 Q153,370 156,372" stroke-width="2.0" fill="none" />
<path d="M178.6,363.4 L182.5,370.3 M187,368.8 Q189.5,369.5 192,373.4 M195,371.8 Q198,372.5 198,374" stroke-width="0.9" fill="none" />
<path d="M131.0,364.0 L141.0,359.8" stroke-width="1.1" stroke-dasharray="12 2" />
<path d="M147.0,369.5 L142.0,379.0" stroke-width="1.1" stroke-dasharray="12 2" />
<path d="M178.6,363.0 L230.0,346.7" stroke-width="1.1" stroke-dasharray="26 2 1.5 2" />
<path d="M223.0,349.0 L230.0,346.7" stroke-width="1.1" stroke-dasharray="18 2 1.5 2" />
<path d="M230.0,346.7 L292.5,413.4" stroke-width="1.1" stroke-dasharray="16 2 1.5 2" />
<path d="M245.4,319.7 L245.3,321.9 L258.0,336.3 L260.3,336.5 L264.5,332.7 L264.6,330.5 L251.9,316.1 L249.6,315.9 Z" fill="#000" stroke="none"/>
<path d="M248.6,319.4 L261.2,333.6" stroke-width="2.6" stroke-dasharray="2.2 2.0" stroke="#fff"/>
<path d="M250.8,318.2 L262.6,331.4" stroke-width="1.0" stroke-dasharray="1 3" stroke="#fff"/>
<path d="M234.2,309.5 L237,305.4 L243.5,304.2 L248.4,306.6 L250.2,312 L247.4,317.2 L240.6,319 L235.4,315.4 Z" stroke-width="1.3" fill="#fff" />
<path d="M237,305.4 L239.4,309.8 L246,308.6 L248.4,306.6 M239.4,309.8 L240.2,318.6 M246,308.6 L247.6,316.4" stroke-width="1.0" fill="none" />
<path d="M234.6,310 L235.8,315 L240.2,318.4" stroke-width="2.6" fill="none" />
<path d="M262.5,334.5 L264.0,336.0" stroke-width="1.0" />
<ellipse cx="268.8" cy="339.6" rx="6.2" ry="7.4" stroke-width="1.9" fill="#fff" transform="rotate(-25 268.8 339.6)"/>
<ellipse cx="268.8" cy="339.8" rx="3.0" ry="4.2" stroke-width="1.1" fill="none" transform="rotate(-25 268.8 339.8)"/>
<path d="M266.0,337.5 L271.5,342.5" stroke-width="0.8" />
<path d="M274.8,357.6 L274,382 L273,394.6 L268.3,394.4 L267.5,388.4 L265,386 L260.5,388.4 L260.5,398.6 L264.4,403.3 L272,405.6 L275.3,413.4 L273.8,422.8 L278.4,427 L284.7,424.4 L286.3,418 L282.3,410 L281.5,400 L287.8,394.6 L288,358.4 Z" stroke-width="1.1" fill="#fff" />
<path d="M277.2,358 L277,396" stroke-width="0.9" fill="none" />
<path d="M274,382 L277,381" stroke-width="0.9" fill="none" />
<path d="M262.6,389.4 L262.6,398 L265.6,401.6" stroke-width="0.9" fill="none" />
<path d="M268.3,394.4 Q268.5,398.5 272,399 Q275,399.2 277,396" stroke-width="1.0" fill="none" />
<path d="M276.5,412 Q277.5,416 275.6,421" stroke-width="1.0" fill="none" stroke-dasharray="2 1.4"/>
<path d="M281.5,400 L278.5,397.5" stroke-width="0.9" fill="none" />
<ellipse cx="279.6" cy="350.2" rx="9.4" ry="9.0" stroke-width="1.2" fill="#fff" transform="rotate(-30 279.6 350.2)"/>
<path d="M271.2,354.6 Q269.6,348 274,344 Q278,340.6 283.6,341.6" stroke-width="2.6" fill="none" />
<path d="M274.2,356 Q272.6,350 276.4,346.6 Q280,343.4 285.4,344" stroke-width="1.8" fill="none" />
<ellipse cx="282.7" cy="352.2" rx="6.6" ry="7.0" stroke-width="1.4" fill="#fff" transform="rotate(-20 282.7 352.2)"/>
<ellipse cx="282.7" cy="353.6" rx="2.9" ry="3.1" fill="#000" stroke="none" shape-rendering="auto"/>
<rect x="282" y="352" width="1" height="1" fill="#fff" stroke="none"/>
<path d="M284.5,356.5 L302.0,374.6" stroke-width="1.1" stroke-dasharray="10 2 1.5 2" />
<text transform="translate(561.4,426.0) scale(1.0,1)" font-size="9.1" font-weight="normal" text-anchor="start" stroke="none" fill="#000">C0002655</text>
</svg></body></html>
